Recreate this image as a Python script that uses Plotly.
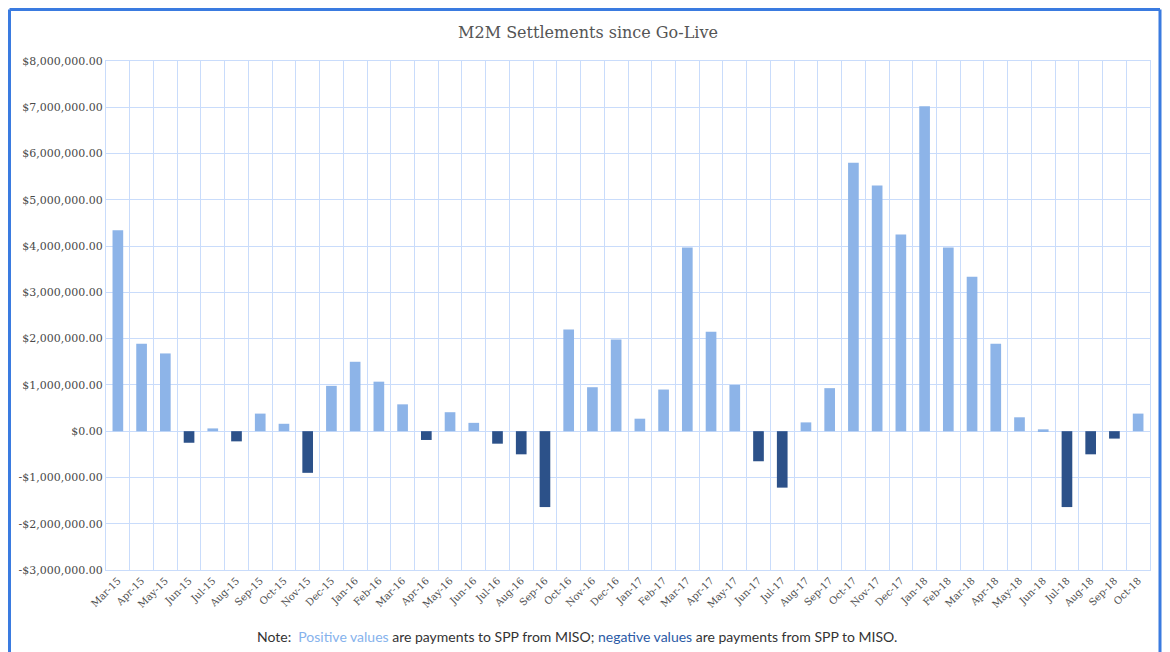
import plotly.graph_objects as go

months = ["Mar-15","Apr-15","May-15","Jun-15","Jul-15","Aug-15","Sep-15","Oct-15","Nov-15","Dec-15",
          "Jan-16","Feb-16","Mar-16","Apr-16","May-16","Jun-16","Jul-16","Aug-16","Sep-16","Oct-16","Nov-16","Dec-16",
          "Jan-17","Feb-17","Mar-17","Apr-17","May-17","Jun-17","Jul-17","Aug-17","Sep-17","Oct-17","Nov-17","Dec-17",
          "Jan-18","Feb-18","Mar-18","Apr-18","May-18","Jun-18","Jul-18","Aug-18","Sep-18","Oct-18"]
settlements = [4340000, 1890000, 1680000, -250000, 60000, -220000, 380000, 160000, -900000, 980000,
               1500000, 1070000, 580000, -190000, 410000, 180000, -270000, -500000, -1640000, 2200000, 950000, 1980000,
               270000, 900000, 3970000, 2150000, 1000000, -650000, -1220000, 190000, 930000, 5800000, 5310000, 4250000,
               7020000, 3970000, 3340000, 1890000, 300000, 40000, -1640000, -500000, -160000, 380000]
tick_vals = [-3000000, -2000000, -1000000, 0, 1000000, 2000000, 3000000, 4000000, 5000000, 6000000, 7000000, 8000000]
tick_text = ["-$3,000,000.00", "-$2,000,000.00", "-$1,000,000.00", "$0.00", "$1,000,000.00", "$2,000,000.00",
             "$3,000,000.00", "$4,000,000.00", "$5,000,000.00", "$6,000,000.00", "$7,000,000.00", "$8,000,000.00"]

POS = "#8db4e8"
NEG = "#2c5189"
NOTE_POS = "#86b2ec"
NOTE_NEG = "#2a5aa6"
GRID = "#c9dcfb"

colors = [POS if v >= 0 else NEG for v in settlements]

fig = go.Figure(go.Bar(x=months, y=settlements, marker=dict(color=colors, line=dict(width=0)),
                       width=0.45, hoverinfo="x+y"))

# page body has an 8px margin: work in figure pixels = window pixels - 8
OFF = 8
W, H = 1170 - OFF, 652 - OFF
L, T = 106 - OFF, 61 - OFF
pw, ph = 1044, 509
R, B = W - L - pw, H - T - ph


def xp(wx):
    return (wx - OFF - L) / pw


def yp(wy):
    return (T + ph - (wy - OFF)) / ph


fig.update_layout(
    width=W, height=H,
    margin=dict(l=L, r=R, t=T, b=B),
    paper_bgcolor="white", plot_bgcolor="white",
    showlegend=False,
    title=dict(text="M2M Settlements since Go-Live", x=xp(588), xref="paper", xanchor="center",
               y=1 - (32 - OFF) / H, yanchor="middle",
               font=dict(family="DejaVu Serif", size=16, color="#555555")),
    font=dict(family="DejaVu Serif", color="#555555"),
)
fig.update_xaxes(type="category", tickson="boundaries", showgrid=True, gridcolor=GRID, gridwidth=1,
                 tickangle=-45, tickfont=dict(family="DejaVu Serif", size=10, color="#4f4f4f"),
                 showline=True, linecolor=GRID, mirror=True, ticks="", zeroline=False)
fig.update_yaxes(range=[-3000000, 8000000], tickvals=tick_vals, ticktext=tick_text,
                 showgrid=True, gridcolor=GRID, gridwidth=1, zeroline=True, zerolinecolor=GRID, zerolinewidth=1,
                 tickfont=dict(family="DejaVu Serif", size=11, color="#4a4a4a"),
                 showline=True, linecolor=GRID, mirror=True, ticks="")

# outer blue frame (left, top, right edges)
fig.add_shape(type="line", xref="paper", yref="paper", x0=xp(9.5), x1=xp(9.5), y0=yp(680), y1=yp(9.5),
              line=dict(color="#3a7be0", width=3), layer="above")
fig.add_shape(type="line", xref="paper", yref="paper", x0=xp(9.5), x1=xp(1160), y0=yp(9.5), y1=yp(9.5),
              line=dict(color="#3a7be0", width=3), layer="above")
fig.add_shape(type="line", xref="paper", yref="paper", x0=xp(1160), x1=xp(1160), y0=yp(680), y1=yp(9.5),
              line=dict(color="#3a7be0", width=3), layer="above")

fig.add_annotation(xref="paper", yref="paper", x=xp(577), y=yp(636),
                   xanchor="center", yanchor="middle", showarrow=False,
                   text=("Note:  <span style='color:" + NOTE_POS + "'>Positive values</span> are payments to SPP from MISO; "
                         "<span style='color:" + NOTE_NEG + "'>negative values</span> are payments from SPP to MISO."),
                   font=dict(family="Lato", size=14, color="#333333"))

fig.write_html("out.html")
